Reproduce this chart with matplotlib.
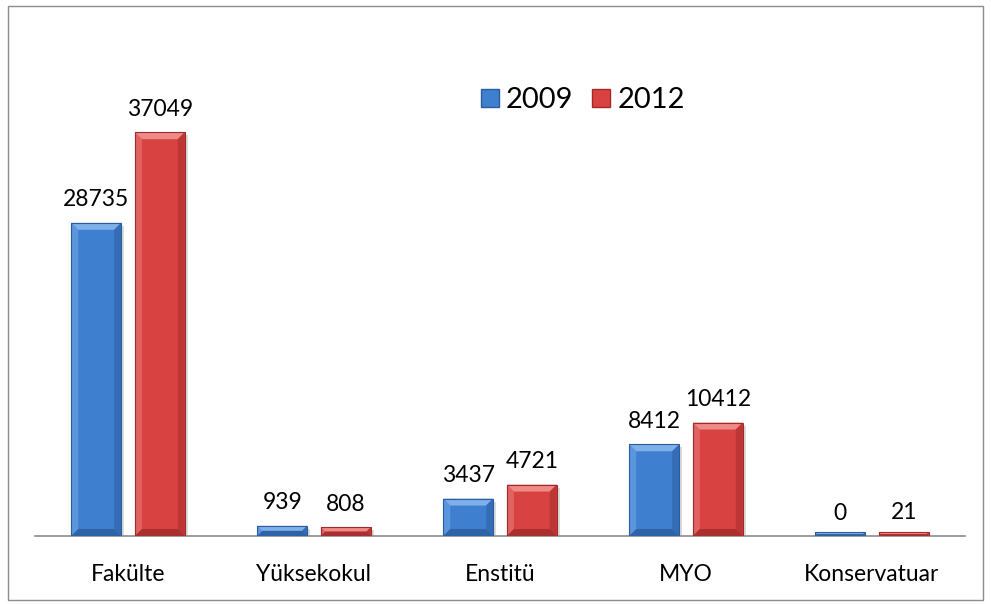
import matplotlib
matplotlib.use("Agg")
import matplotlib.pyplot as plt
from matplotlib.patches import Rectangle, Polygon
from matplotlib.lines import Line2D
import numpy as np

categories = ["Fakülte", "Yüksekokul", "Enstitü", "MYO", "Konservatuar"]
series_names = ["2009", "2012"]
values_2009 = [28735, 939, 3437, 8412, 0]
values_2012 = [37049, 808, 4721, 10412, 21]

W, H = 991, 604
fig = plt.figure(figsize=(W / 100, H / 100), dpi=100)
plt.rcParams['font.family'] = ['Lato', 'DejaVu Sans']

# outer border
fig.patches.append(Rectangle((8 / W, 4 / H), 975 / W, 594 / H, transform=fig.transFigure,
                             fill=False, edgecolor="#8c8c8c", linewidth=1.0))

ax = fig.add_axes([35 / W, 68 / H, 930 / W, 436 / H])
ax.set_xlim(-0.5, len(categories) - 0.5)
ax.set_ylim(0, 40000)
for s in ["top", "right", "left"]:
    ax.spines[s].set_visible(False)
ax.spines["bottom"].set_color("#8c8c8c")
ax.spines["bottom"].set_linewidth(1.2)
ax.set_yticks([])
ax.tick_params(axis="x", length=0, pad=20, labelsize=16.5)

x = np.arange(len(categories))
bw = 0.268
off = 0.171
body = ["#3f7fd0", "#d84341"]
light = ["#7fb0ea", "#ee8a88"]
dark = ["#2a5c9e", "#a02a2a"]

inv = ax.transData.inverted()


def bevel(bar, i):
    bx, by = bar.get_x(), bar.get_y()
    w, h = bar.get_width(), bar.get_height()
    (x0, y0) = ax.transData.transform((bx, by))
    (x1, y1) = ax.transData.transform((bx + w, by + h))
    y1 = max(y1, y0 + 4)
    d = min(7, (y1 - y0) / 2)

    def poly(pts, c, a=1.0):
        p = Polygon([inv.transform(pt) for pt in pts], closed=True, facecolor=c,
                    edgecolor="none", alpha=a, zorder=3)
        ax.add_patch(p)
    # shadow
    poly([(x0 + 2, y0 - 3), (x1 + 3, y0 - 3), (x1 + 3, y1 - 3), (x0 + 2, y1 - 3)], "#999999", 0.35)
    # body
    poly([(x0, y0), (x1, y0), (x1, y1), (x0, y1)], body[i])
    # top bevel
    poly([(x0, y1), (x1, y1), (x1 - d, y1 - d), (x0 + d, y1 - d)], light[i])
    # left bevel
    poly([(x0, y0), (x0 + d, y0 + d), (x0 + d, y1 - d), (x0, y1)], light[i], 0.45)
    # right bevel
    poly([(x1, y0), (x1 - d, y0 + d), (x1 - d, y1 - d), (x1, y1)], dark[i], 0.5)
    # bottom bevel
    poly([(x0, y0), (x1, y0), (x1 - d, y0 + d), (x0 + d, y0 + d)], dark[i], 0.8)
    ax.add_patch(Polygon([inv.transform(pt) for pt in [(x0, y0), (x1, y0), (x1, y1), (x0, y1)]],
                         closed=True, fill=False, edgecolor=dark[i], linewidth=0.8, zorder=4))


for i, vals in enumerate([values_2009, values_2012]):
    bars = ax.bar(x + (i * 2 - 1) * off, vals, width=bw, color="none", edgecolor="none",
                  label=series_names[i], zorder=2)
    for b, v in zip(bars, vals):
        bevel(b, i)
        ax.annotate(f"{v}", (b.get_x() + b.get_width() / 2, b.get_height()),
                    xytext=(0, 9), textcoords="offset points", ha="center", va="bottom",
                    fontsize=16.5, color="#000000")

ax.set_xticks(x)
ax.set_xticklabels(categories)

# legend
handles = [Line2D([], [], marker="s", linestyle="none", markersize=13,
                  markerfacecolor=body[i], markeredgecolor=dark[i]) for i in range(2)]
ax.legend(handles, series_names, loc="center", bbox_to_anchor=(580 / W, (604 - 100) / H),
          bbox_transform=fig.transFigure, ncol=2, frameon=False, fontsize=21,
          handletextpad=0.05, columnspacing=0.45, handlelength=1.0)

fig.savefig("out.png", dpi=100)
